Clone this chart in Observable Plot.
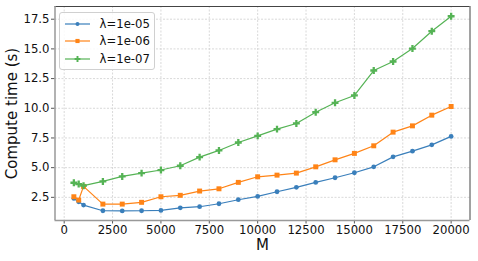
<!DOCTYPE html>
<html>
<head>
<meta charset="utf-8">
<script src="https://cdn.jsdelivr.net/npm/d3@7"></script>
<script src="https://cdn.jsdelivr.net/npm/@observablehq/plot@0.6"></script>
<style>
  html, body { margin: 0; padding: 0; background: #fff; }
  #wrap { position: relative; width: 478px; height: 261px; font-family: "DejaVu Sans", sans-serif; }
  #wrap svg { font-family: "DejaVu Sans", sans-serif; }
  #legend { position: absolute; left: 58.5px; top: 12px; width: 96px; height: 58px; box-sizing: border-box;
    border: 1px solid #d0d0d0; border-radius: 3px; background: rgba(255,255,255,0.85); }
  .row { position: absolute; left: 0; height: 18px; display: flex; align-items: center; font-size: 11.7px; color: #111; }
  .row svg { margin-left: 5px; margin-right: 9px; }
</style>
</head>
<body>
<div id="wrap"><div id="legend"></div></div>
<script>
const M = [500, 750, 1000, 2000, 3000, 4000, 5000, 6000, 7000, 8000, 9000, 10000,
           11000, 12000, 13000, 14000, 15000, 16000, 17000, 18000, 19000, 20000];
const series = ["λ=1e-05", "λ=1e-06", "λ=1e-07"];
const time_1e05 = [2.41, 2.13, 1.85, 1.37, 1.36, 1.37, 1.40, 1.62, 1.71, 1.96, 2.30, 2.58,
                   2.97, 3.34, 3.76, 4.15, 4.57, 5.07, 5.91, 6.39, 6.92, 7.63];
const time_1e06 = [2.55, 2.27, 3.42, 1.93, 1.93, 2.08, 2.55, 2.67, 3.03, 3.22, 3.76, 4.23,
                   4.37, 4.54, 5.07, 5.66, 6.20, 6.84, 7.99, 8.52, 9.42, 10.15];
const time_1e07 = [3.73, 3.62, 3.48, 3.84, 4.26, 4.54, 4.80, 5.16, 5.89, 6.45, 7.12, 7.68,
                   8.24, 8.72, 9.67, 10.46, 11.08, 13.18, 13.94, 15.03, 16.49, 17.75];
const xTicks = [0, 2500, 5000, 7500, 10000, 12500, 15000, 17500, 20000];
const yTicks = [2.5, 5.0, 7.5, 10.0, 12.5, 15.0, 17.5];
const colors = ["#3a7fbb", "#ff8417", "#55b355"];
const symbols = [d3.symbolCircle, d3.symbolSquare, d3.symbolCross];
const radii = [2.4, 2.8, 2.9];

const allTimes = [time_1e05, time_1e06, time_1e07];
const data = [];
allTimes.forEach((arr, s) => arr.forEach((v, i) => data.push({M: M[i], t: v, s: series[s]})));

const xDomain = [-475, 20975];
const yDomain = [0.55, 18.57];

const marks = [
  Plot.gridX(xTicks, {stroke: "#cfcfcf", strokeOpacity: 1, strokeDasharray: "2,1.5", strokeWidth: 0.8}),
  Plot.gridY(yTicks, {stroke: "#cfcfcf", strokeOpacity: 1, strokeDasharray: "2,1.5", strokeWidth: 0.8}),
  Plot.axisX(xTicks, {tickSize: 3.5, tickPadding: 2, fontSize: 11.7, stroke: "#555", label: null, tickFormat: d => String(d), fill: "#111"}),
  Plot.axisY(yTicks, {tickSize: 3.5, tickPadding: 2, fontSize: 11.7, stroke: "#555", label: null, tickFormat: d => d.toFixed(1), fill: "#111"}),
];
series.forEach((name, s) => {
  const d = data.filter(r => r.s === name);
  marks.push(Plot.line(d, {x: "M", y: "t", stroke: colors[s], strokeWidth: 1.2}));
  marks.push(Plot.dot(d, {x: "M", y: "t", fill: colors[s], stroke: "none", symbol: symbols[s], r: radii[s]}));
});
marks.push(
  Plot.ruleX([xDomain[1]], {stroke: "#444", strokeWidth: 1}),
  Plot.ruleY([yDomain[1]], {stroke: "#444", strokeWidth: 1}),
  Plot.ruleX([xDomain[0]], {stroke: "#999", strokeWidth: 1.5}),
  Plot.ruleY([yDomain[0]], {stroke: "#999", strokeWidth: 1.5}),
  Plot.text(["M"], {frameAnchor: "bottom", lineAnchor: "middle", textAnchor: "middle", dy: 25, fontSize: 15, fill: "#111"}),
  Plot.text(["Compute time (s)"], {frameAnchor: "left", lineAnchor: "middle", textAnchor: "middle", dx: -42.5, rotate: -90, fontSize: 15, fill: "#111"})
);

const chart = Plot.plot({
  width: 478, height: 261,
  marginLeft: 54.5, marginRight: 8.5, marginTop: 6, marginBottom: 41,
  style: {fontFamily: "DejaVu Sans, sans-serif", fontSize: "11.7px", color: "#111", background: "#fff"},
  x: {domain: xDomain, ticks: xTicks},
  y: {domain: yDomain, ticks: yTicks},
  marks
});
document.getElementById("wrap").prepend(chart);

// enlarge tick label text
chart.querySelectorAll("g[aria-label$='tick label']").forEach(g => {
  g.setAttribute("font-size", "11.7");
  g.querySelectorAll("text").forEach(t => { t.style.fontSize = "11.7px"; t.style.fontFamily = "DejaVu Sans, sans-serif"; });
});

// legend
const legend = document.getElementById("legend");
series.forEach((name, s) => {
  const row = document.createElement("div");
  row.className = "row";
  row.style.top = (1.5 + s * 17.7) + "px";
  const ns = "http://www.w3.org/2000/svg";
  const svg = document.createElementNS(ns, "svg");
  svg.setAttribute("width", 26); svg.setAttribute("height", 10);
  const ln = document.createElementNS(ns, "line");
  ln.setAttribute("x1", 0); ln.setAttribute("x2", 25); ln.setAttribute("y1", 5); ln.setAttribute("y2", 5);
  ln.setAttribute("stroke", colors[s]); ln.setAttribute("stroke-width", s === 2 ? 2 : 1.2);
  if (s === 2) ln.setAttribute("stroke-opacity", 0.6);
  svg.appendChild(ln);
  const p = document.createElementNS(ns, "path");
  p.setAttribute("d", d3.symbol(symbols[s], Math.PI * radii[s] * radii[s] * 0.7)());
  p.setAttribute("transform", "translate(12.5,5)");
  p.setAttribute("fill", colors[s]);
  svg.appendChild(p);
  row.appendChild(svg);
  const t = document.createElement("span");
  t.textContent = name;
  row.appendChild(t);
  legend.appendChild(row);
});
</script>
</body>
</html>
